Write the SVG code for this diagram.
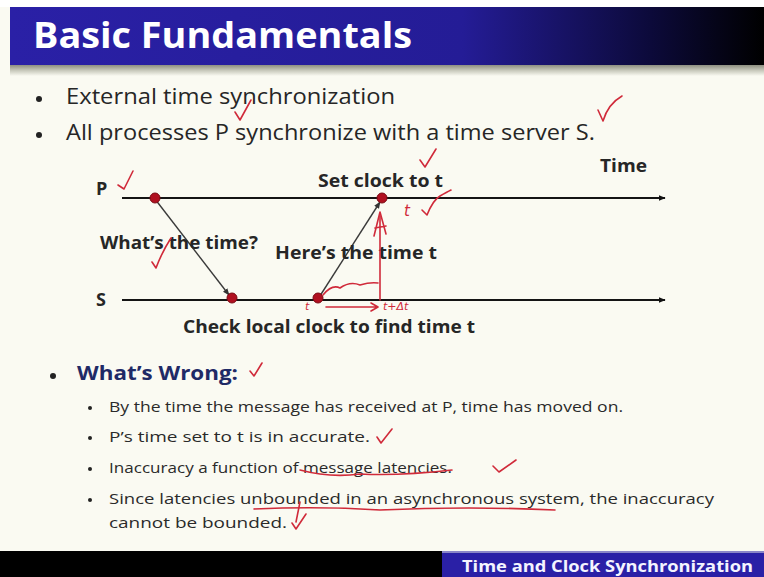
<svg xmlns="http://www.w3.org/2000/svg" width="764" height="577" viewBox="0 0 764 577">
  <defs>
    <linearGradient id="titleGrad" x1="0" y1="0" x2="1" y2="0">
      <stop offset="0" stop-color="#2a20a6"/>
      <stop offset="0.6" stop-color="#241c96"/>
      <stop offset="0.85" stop-color="#0c0a3a"/>
      <stop offset="1" stop-color="#000000"/>
    </linearGradient>
    <linearGradient id="shadeGrad" x1="0" y1="0" x2="0" y2="1">
      <stop offset="0" stop-color="#8d8f80"/>
      <stop offset="0.5" stop-color="#c8c9bc"/>
      <stop offset="1" stop-color="#fafaf2"/>
    </linearGradient>
    <marker id="arrowBlack" viewBox="0 0 10 10" refX="9" refY="5" markerWidth="7" markerHeight="7" orient="auto-start-reverse" markerUnits="userSpaceOnUse">
      <path d="M0,1 L10,5 L0,9 z" fill="#111"/>
    </marker>
    <marker id="arrowMsg" viewBox="0 0 10 10" refX="9" refY="5" markerWidth="7" markerHeight="7" orient="auto" markerUnits="userSpaceOnUse">
      <path d="M0,1 L10,5 L0,9 z" fill="#333"/>
    </marker>
    <style>
      .body { font-family: "Open Sans", "Liberation Sans", sans-serif; fill: #262626; }
      .lbl { font-family: "Open Sans", "Liberation Sans", sans-serif; font-weight: bold; fill: #262626; font-size: 18px; }
      .sub { font-family: "Open Sans", "Liberation Sans", sans-serif; fill: #2a2a2a; font-size: 15px; }
      .timeline { stroke: #141414; stroke-width: 2.2; fill: none; }
      .msg { stroke: #3a3a3a; stroke-width: 1.4; fill: none; }
      .event { fill: #b01020; stroke: #7a0a14; stroke-width: 1; }
      .ink { stroke: #d02a3a; stroke-width: 1.6; fill: none; stroke-linecap: round; stroke-linejoin: round; }
      .inkText { font-family: "DejaVu Sans", sans-serif; font-style: italic; fill: #d02a3a; }
      .dot { fill: #222; }
    </style>
  </defs>

  <!-- page background -->
  <rect x="0" y="0" width="764" height="577" fill="#fafaf2"/>
  <rect x="0" y="0" width="764" height="7" fill="#ffffff"/>

  <!-- title bar -->
  <rect x="10" y="7" width="754" height="58" fill="url(#titleGrad)"/>
  <rect x="10" y="65" width="754" height="11" fill="url(#shadeGrad)"/>
  <text x="33" y="48" font-family="Open Sans, Liberation Sans, sans-serif" font-weight="bold" font-size="35" fill="#ffffff" textLength="379" lengthAdjust="spacingAndGlyphs">Basic Fundamentals</text>

  <!-- top bullets -->
  <circle class="dot" cx="39" cy="99" r="3"/>
  <text class="body" x="66" y="104" font-size="22" textLength="329" lengthAdjust="spacingAndGlyphs">External time synchronization</text>
  <circle class="dot" cx="39" cy="135" r="3"/>
  <text class="body" x="66" y="140" font-size="22" textLength="529" lengthAdjust="spacingAndGlyphs">All processes P synchronize with a time server S.</text>

  <!-- timelines and messages -->
  <g id="connectors">
    <line class="timeline" x1="122" y1="198" x2="665" y2="198" marker-end="url(#arrowBlack)"/>
    <line class="timeline" x1="122" y1="300" x2="665" y2="300" marker-end="url(#arrowBlack)"/>
    <line class="msg" x1="155" y1="199" x2="229" y2="295" marker-end="url(#arrowMsg)"/>
    <line class="msg" x1="318" y1="299" x2="380" y2="202" marker-end="url(#arrowMsg)"/>
  </g>

  <g id="process-P">
    <text class="lbl" x="96" y="195">P</text>
  </g>
  <g id="server-S">
    <text class="lbl" x="96" y="306">S</text>
  </g>
  <g id="axis-label">
    <text class="lbl" x="600" y="172" textLength="47" lengthAdjust="spacingAndGlyphs">Time</text>
  </g>

  <g id="event-request">
    <circle class="event" cx="155" cy="198" r="5"/>
    <text class="lbl" x="100" y="249" textLength="158" lengthAdjust="spacingAndGlyphs">What’s the time?</text>
  </g>
  <g id="event-receive">
    <circle class="event" cx="232" cy="298" r="5"/>
    <text class="lbl" x="183" y="333" textLength="292" lengthAdjust="spacingAndGlyphs">Check local clock to find time t</text>
  </g>
  <g id="event-reply">
    <circle class="event" cx="318" cy="298" r="5"/>
    <text class="lbl" x="275" y="259" textLength="162" lengthAdjust="spacingAndGlyphs">Here’s the time t</text>
  </g>
  <g id="event-set">
    <circle class="event" cx="382" cy="198" r="5"/>
    <text class="lbl" x="318" y="187" textLength="125" lengthAdjust="spacingAndGlyphs">Set clock to t</text>
  </g>

  <!-- what's wrong -->
  <circle class="dot" cx="53" cy="376" r="3"/>
  <text x="77" y="380" font-family="Open Sans, Liberation Sans, sans-serif" font-weight="bold" font-size="19" fill="#1f2a66" textLength="161" lengthAdjust="spacingAndGlyphs">What’s Wrong:</text>

  <circle class="dot" cx="90" cy="408" r="2"/>
  <text class="sub" x="109" y="412" textLength="514" lengthAdjust="spacingAndGlyphs">By the time the message has received at P, time has moved on.</text>
  <circle class="dot" cx="90" cy="438" r="2"/>
  <text class="sub" x="109" y="442" textLength="261" lengthAdjust="spacingAndGlyphs">P’s time set to t is in accurate.</text>
  <circle class="dot" cx="90" cy="469" r="2"/>
  <text class="sub" x="109" y="473" textLength="343" lengthAdjust="spacingAndGlyphs">Inaccuracy a function of message latencies.</text>
  <circle class="dot" cx="90" cy="500" r="2"/>
  <text class="sub" x="109" y="504" textLength="605" lengthAdjust="spacingAndGlyphs">Since latencies unbounded in an asynchronous system, the inaccuracy</text>
  <text class="sub" x="109" y="528" textLength="178" lengthAdjust="spacingAndGlyphs">cannot be bounded.</text>

  <!-- footer -->
  <rect x="0" y="551" width="764" height="26" fill="#000000"/>
  <rect x="442" y="551" width="322" height="26" fill="#2a20a6"/>
  <rect x="442" y="551" width="322" height="2" fill="#8a86c8"/>
  <text x="462" y="572" font-family="Open Sans, Liberation Sans, sans-serif" font-weight="bold" font-size="16" fill="#f4f4ff" textLength="291" lengthAdjust="spacingAndGlyphs">Time and Clock Synchronization</text>

  <!-- red pen marks -->
  <g id="pen-marks">
    <path class="ink" d="M235,112 L240,120 L251,100"/>
    <path class="ink" d="M598,110 L603,121 Q608,104 622,96"/>
    <path class="ink" d="M420,160 L425,167 L436,149"/>
    <path class="ink" d="M118,185 L124,189 L133,171"/>
    <path class="ink" d="M152,262 L156,268 Q162,252 171,238"/>
    <!-- up arrow from S to P at the reply point -->
    <path class="ink" d="M380,300 L380,216"/>
    <path class="ink" d="M374,236 L380,212 L386,234 M375,228 L386,226"/>
    <!-- wavy bracket along the reply leg -->
    <path class="ink" d="M323,295 Q332,284 340,288 Q350,281 360,285 Q370,282 378,283"/>
    <!-- arrow under S line -->
    <path class="ink" d="M326,307 L378,307 M371,303 L378,307 L371,311"/>
    <text class="inkText" x="305" y="310" font-size="11">t</text>
    <text class="inkText" x="383" y="310" font-size="11">t+Δt</text>
    <text class="inkText" x="404" y="216" font-size="15">t</text>
    <path class="ink" d="M422,210 L427,215 Q433,200 440,196 Q447,192 451,190"/>
    <!-- notes below -->
    <path class="ink" d="M250,371 L254,376 L262,363"/>
    <path class="ink" d="M377,437 L381,443 L392,429"/>
    <path class="ink" d="M300,470 Q330,478 360,474 Q400,476 452,470"/>
    <path class="ink" d="M493,466 L499,472 L516,460"/>
    <path class="ink" d="M254,509 Q320,506 380,510 Q470,506 555,510"/>
    <path class="ink" d="M300,502 L296,522"/>
    <path class="ink" d="M292,523 L296,529 L306,514"/>
  </g>
</svg>
